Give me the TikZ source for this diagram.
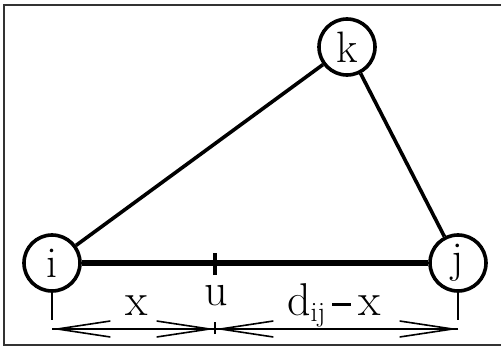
\documentclass[tikz,border=0pt]{standalone}
\usetikzlibrary{arrows.meta}
\begin{document}
\begin{tikzpicture}[x=1pt,y=-1pt,
  vertex/.style={circle,draw,line width=3.6pt,minimum size=56pt,inner sep=0pt,font=\fontsize{44}{50}\selectfont},
  edge/.style={line width=3.6pt},
  mainedge/.style={line width=5.5pt},
  extline/.style={line width=1.6pt},
  dimline/.style={line width=1.6pt},
  barb/.style={-{Straight Barb[length=53pt,width=16pt,line width=1.6pt]}},
  lbl/.style={font=\fontsize{46}{52}\selectfont,inner sep=0pt}]
\useasboundingbox (0,0) rectangle (501,350);
\draw[line width=2.2pt,black!80] (501,5) -- (4,5) -- (4,345) -- (501,345);
\node[vertex] (i) at (52,263) {i};
\node[vertex] (j) at (458,263) {j};
\node[vertex] (k) at (347,47) {k};
\draw[edge] (i) -- (k);
\draw[edge] (k) -- (j);
\draw[mainedge] (i) -- (j);
\coordinate (u) at (215,263);
\draw[line width=3.6pt] ([yshift=-12pt]u) -- ([yshift=10pt]u);
\node[lbl,anchor=base] (ulbl) at (216,305) {u};
% dimension
\coordinate (di) at (52,329);
\coordinate (dj) at (458,329);
\coordinate (du) at (215,329);
\draw[extline] (i.south) -- ([yshift=9pt]di);
\draw[extline] (j.south) -- ([yshift=9pt]dj);
\draw[dimline] ([yshift=-5pt]du) -- ([yshift=7pt]du);
\draw[dimline,barb] (du) -- (di);
\draw[dimline,barb] (di) -- (du);
\draw[dimline,barb] (dj) -- (du);
\draw[dimline,barb] (du) -- (dj);
\node[lbl,anchor=base] (xlbl) at (137,315) {x};
\node[lbl,anchor=base] (dlbl) at (334,315) {d\raisebox{-6pt}{\fontsize{28}{32}\selectfont ij}\hspace{7pt}\rule[9pt]{19pt}{2.6pt}\hspace{7pt}x};
\end{tikzpicture}
\end{document}
